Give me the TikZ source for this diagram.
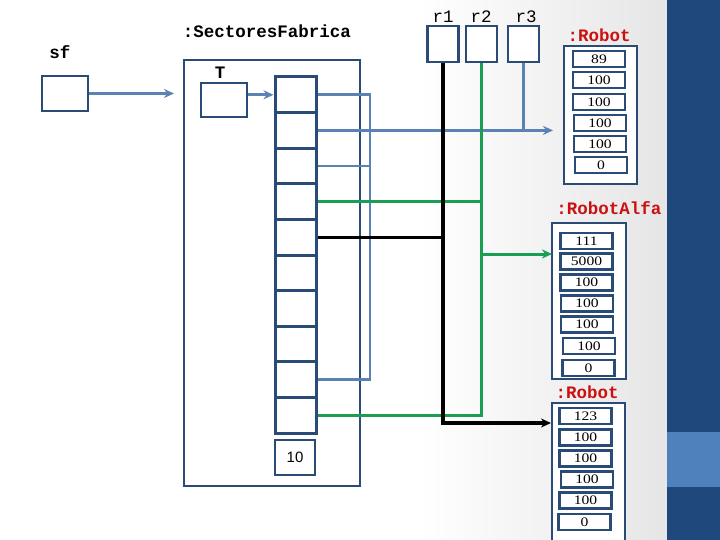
\documentclass[tikz,border=0pt]{standalone}
\usepackage{fontspec}
\setmainfont{Liberation Serif}
\setsansfont{Liberation Sans}
\setmonofont{Liberation Mono}
\newfontfamily\fieldfont[FakeStretch=1.2]{Liberation Serif}
\usetikzlibrary{arrows.meta}
\definecolor{dkblue}{RGB}{42,75,118}
\definecolor{lnblue}{RGB}{90,130,180}
\definecolor{lngreen}{RGB}{26,158,84}
\definecolor{lblred}{RGB}{204,16,16}
\definecolor{banddk}{RGB}{31,73,125}
\definecolor{bandlt}{RGB}{79,129,189}
\tikzset{
  objbox/.style={draw=dkblue, line width=2.6pt, fill=white, inner sep=0pt},
  cellbox/.style={objbox, line width=3pt, minimum width=41pt, minimum height=35.6pt},
  refbox/.style={objbox, minimum width=31pt, minimum height=36pt},
  fieldbox/.style={objbox, line width=2.3pt, minimum width=52pt, minimum height=16pt, font=\fieldfont\fontsize{13}{14}\selectfont},
  varlbl/.style={font=\ttfamily\bfseries\fontsize{17.5}{20}\selectfont, inner sep=0pt},
  reflbl/.style={font=\ttfamily\fontsize{17.5}{20}\selectfont, inner sep=0pt},
  objlbl/.style={varlbl, text=lblred},
  tip/.style={-{Stealth[length=10pt,width=9pt]}},
  blueln/.style={draw=lnblue, line width=2.8pt},
  greenln/.style={draw=lngreen, line width=3pt},
  blackln/.style={draw=black, line width=3.2pt}
}
\begin{document}
\begin{tikzpicture}[x=1pt,y=-1pt]
\useasboundingbox (0,0) rectangle (720,540);
\clip (0,0) rectangle (720,540);
% background
\fill[white] (0,0) rectangle (667,540);
\shade[left color=white,right color=black!10] (420,0) rectangle (667,540);
\fill[banddk] (667,0) rectangle (720,540);
\fill[bandlt] (667,432) rectangle (720,487);

% variable sf
\node[varlbl] (sflbl) at (60,52) {sf};
\node[objbox, minimum width=46pt, minimum height=35pt] (sf) at (65,93.5) {};

% SectoresFabrica object
\node[varlbl] (sectlbl) at (267,31) {:SectoresFabrica};
\node[objbox, minimum width=176pt, minimum height=426pt] (sect) at (272,273) {};
\node[varlbl] (Tlbl) at (220,73) {T};
\node[objbox, minimum width=46pt, minimum height=34pt] (T) at (224,100) {};
\foreach \i in {1,...,10}
  \node[cellbox] (c\i) at (295.5,{77+35.6*(\i-0.5)}) {};
\node[objbox, minimum width=40pt, minimum height=35pt, font=\sffamily\fontsize{15}{18}\selectfont] (ten) at (295,457.5) {10};

% reference variables
\node[reflbl] (r1lbl) at (443,17) {r1};
\node[reflbl] (r2lbl) at (481,17) {r2};
\node[reflbl] (r3lbl) at (526,17) {r3};
\node[refbox] (r1) at (443,44) {};
\node[refbox] (r2) at (481.5,44) {};
\node[refbox] (r3) at (523.5,44) {};

% Robot 1
\node[objlbl] (rob1lbl) at (599,35) {:Robot};
\node[objbox, minimum width=73pt, minimum height=138pt] (rob1) at (600.5,115) {};
\node[fieldbox] (a1) at (599,59) {89};
\node[fieldbox] (a2) at (599,80) {100};
\node[fieldbox] (a3) at (599,102) {100};
\node[fieldbox] (a4) at (600,123) {100};
\node[fieldbox] (a5) at (600,144) {100};
\node[fieldbox] (a6) at (601,165) {0};

% RobotAlfa
\node[objlbl] (alfalbl) at (609,208) {:RobotAlfa};
\node[objbox, minimum width=74pt, minimum height=156pt] (alfa) at (589,301) {};
\node[fieldbox] (b1) at (586.5,241) {111};
\node[fieldbox] (b2) at (586.5,261.5) {5000};
\node[fieldbox] (b3) at (586.5,282.5) {100};
\node[fieldbox] (b4) at (587,303.5) {100};
\node[fieldbox] (b5) at (587,324.5) {100};
\node[fieldbox] (b6) at (589,346) {100};
\node[fieldbox] (b7) at (588.5,368) {0};

% Robot 2
\node[objlbl] (rob2lbl) at (587,392) {:Robot};
\node[objbox, minimum width=73pt, minimum height=150pt] (rob2) at (588.5,478) {};
\node[fieldbox] (d1) at (585.5,416) {123};
\node[fieldbox] (d2) at (585.5,437.5) {100};
\node[fieldbox] (d3) at (585.5,458.5) {100};
\node[fieldbox] (d4) at (587,479.5) {100};
\node[fieldbox] (d5) at (585.5,500.5) {100};
\node[fieldbox] (d6) at (584.5,522) {0};

% coordinates for free arrow ends
\coordinate (sfend) at (174,93.5);
\coordinate (bx) at (370,94);
\coordinate (rob1tip) at (553,130);
\coordinate (gtip) at (552,254);
\coordinate (ktip) at (551,423);

% blue connectors
\draw[blueln, tip] (sf.east) -- (sfend);
\draw[blueln, tip] (T.east |- c1.west) -- (c1.west);
\draw[blueln] (c1.east) -- (c1.east -| bx) -- (c9.east -| bx) -- (c9.east);
\draw[blueln] (c3.east) -- (c3.east -| bx);
\draw[blueln, tip] (c2.east) -- (c2.east -| rob1tip);
\draw[blueln] (r3.south) -- (r3.south |- c2.east);

% green connectors
\draw[greenln] (c4.east) -- (c4.east -| r2.south);
\draw[greenln] (r2.south) -- (r2.south |- c10.east) -- (c10.east);
\draw[greenln, tip] (r2.south |- gtip) -- (gtip);

% black connectors
\draw[blackln] (c5.east) -- (c5.east -| r1.south);
\draw[blackln, tip] (r1.south) -- (r1.south |- ktip) -- (ktip);
\end{tikzpicture}
\end{document}
